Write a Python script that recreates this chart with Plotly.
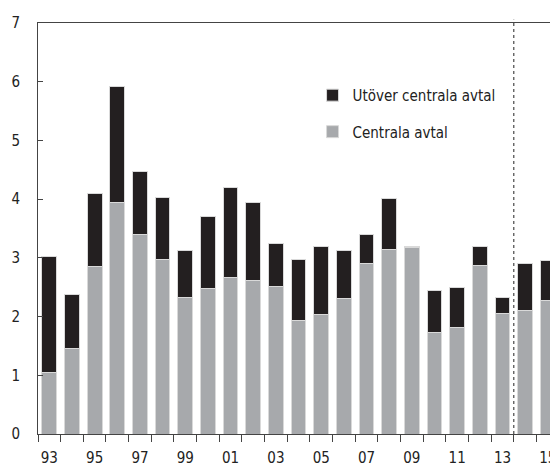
import plotly.graph_objects as go

# Lönestatistik: löneökning uppdelad på centrala avtal och utöver (procent)
ar = list(range(1993, 2016))
centrala = [1.04, 1.46, 2.85, 3.95, 3.39, 2.98, 2.33, 2.47, 2.67, 2.61, 2.51,
            1.93, 2.04, 2.30, 2.90, 3.15, 3.17, 1.73, 1.82, 2.87, 2.06, 2.10, 2.28]
totalt = [3.02, 2.38, 4.09, 5.92, 4.47, 4.03, 3.13, 3.70, 4.20, 3.94, 3.24,
          2.98, 3.20, 3.12, 3.39, 4.01, 3.19, 2.45, 2.50, 3.19, 2.32, 2.90, 2.95]
utover = [round(t - c, 2) for t, c in zip(totalt, centrala)]

tick_ar = list(range(1993, 2016, 2))
tick_text = [str(a)[2:] for a in tick_ar]

font_namn = "Liberation Sans Narrow, DejaVu Sans Condensed, Roboto, sans-serif"
svart = '#231f20'
gra = '#a7a9ac'

fig = go.Figure()

fig.add_trace(go.Bar(
    x=ar, y=centrala, name='Centrala avtal',
    marker_color=gra, marker_line=dict(color='#d9d9d9', width=1),
    legendgroup='b', legendrank=2
))
fig.add_trace(go.Bar(
    x=ar, y=utover, name='Utöver centrala avtal',
    marker_color=svart, marker_line=dict(color='#d9d9d9', width=1),
    legendgroup='a', legendrank=1
))

# streckad linje mellan utfall och prognos
fig.add_shape(type='line', x0=2013.5, x1=2013.5, y0=0, y1=1.008,
              xref='x', yref='paper',
              line=dict(color='#222222', width=1, dash='dot'))

# sidan har 8 px marginal runt figuren, därav 550x458
fig.update_layout(
    width=550, height=458,
    margin=dict(l=30, r=0, t=15, b=32),
    barmode='stack',
    bargap=0.35,
    plot_bgcolor='white',
    paper_bgcolor='white',
    font=dict(family=font_namn, size=15, color='#222222'),
    showlegend=True,
    legend=dict(
        x=0.528, y=0.864, xanchor='left', yanchor='top',
        traceorder='grouped', tracegroupgap=14,
        bgcolor='rgba(0,0,0,0)',
        font=dict(family=font_namn, size=15),
        itemclick=False
    ),
    xaxis=dict(
        range=[1992.5, 2015.45], automargin=False,
        tickmode='array', tickvals=tick_ar, ticktext=tick_text,
        ticks='outside', ticklen=10, tickcolor='rgba(0,0,0,0)',
        showline=True, linecolor='#444444', linewidth=1, mirror=True,
        showgrid=False, zeroline=False,
        minor=dict(tickmode='linear', tick0=1992.5, dtick=1,
                   ticks='outside', ticklen=7, tickcolor='#444444', tickwidth=1)
    ),
    yaxis=dict(
        range=[0, 7], dtick=1, automargin=False,
        ticks='inside', ticklen=5, tickcolor='#444444',
        ticklabelstandoff=14,
        showline=True, linecolor='#444444', linewidth=1,
        showgrid=False, zeroline=False
    )
)

fig.write_html("out.html")
